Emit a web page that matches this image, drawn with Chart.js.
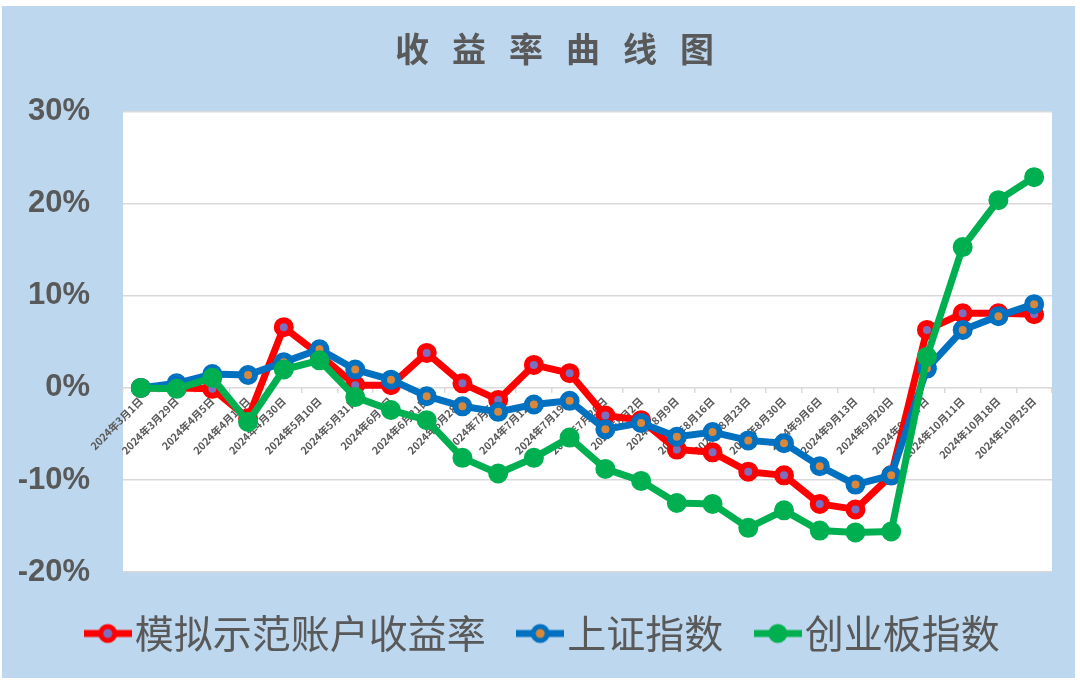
<!DOCTYPE html>
<html><head><meta charset="utf-8">
<script src="https://cdn.jsdelivr.net/npm/chart.js@4"></script>
<style>
html,body{margin:0;padding:0;background:#fff;width:1080px;height:683px;overflow:hidden;}
#wrap{position:absolute;left:2px;top:6px;width:1073px;height:672px;background:#BDD7EE;}
canvas{display:block;}
</style></head><body>
<div id="wrap"><canvas id="c" width="1073" height="672"></canvas></div>
<script>
const categories = ['2024年3月1日','2024年3月29日','2024年4月5日','2024年4月19日','2024年4月30日','2024年5月10日','2024年5月31日','2024年6月7日','2024年6月21日','2024年6月28日','2024年7月5日','2024年7月12日','2024年7月19日','2024年7月26日','2024年8月2日','2024年8月9日','2024年8月16日','2024年8月23日','2024年8月30日','2024年9月6日','2024年9月13日','2024年9月20日','2024年9月27日','2024年10月11日','2024年10月18日','2024年10月25日'];
const accountReturn = [0, 0, -0.1, -3.3, 6.6, 3.6, 0.3, 0.3, 3.8, 0.5, -1.3, 2.5, 1.6, -3.0, -3.5, -6.7, -7.0, -9.1, -9.5, -12.6, -13.2, -9.5, 6.3, 8.1, 8.1, 8.0];
const shIndex = [0, 0.5, 1.5, 1.4, 2.8, 4.2, 2.0, 0.9, -0.9, -2.0, -2.6, -1.8, -1.4, -4.5, -3.8, -5.3, -4.8, -5.7, -6.0, -8.5, -10.5, -9.5, 2.1, 6.3, 7.8, 9.1];
const cyIndex = [0, -0.1, 1.1, -3.7, 2.0, 3.0, -1.0, -2.4, -3.5, -7.6, -9.3, -7.6, -5.4, -8.8, -10.1, -12.5, -12.6, -15.2, -13.3, -15.5, -15.7, -15.6, 3.4, 15.3, 20.4, 22.9];
const seriesNames = ['模拟示范账户收益率','上证指数','创业板指数'];
const yMin = -20, yMax = 30, yStep = 10;
const titleText = '收益率曲线图';

const RED='#FF0000', BLUE='#0070C0', GREEN='#00B050';
const GREY='#595959';

function legendImg(line, fill){
  const c=document.createElement('canvas'); c.width=48; c.height=22;
  const g=c.getContext('2d');
  g.strokeStyle=line; g.lineWidth=7; g.beginPath(); g.moveTo(0,11); g.lineTo(48,11); g.stroke();
  g.beginPath(); g.arc(24,11,7,0,Math.PI*2); g.fillStyle=fill; g.fill(); g.lineWidth=5; g.stroke();
  return c;
}
const legendImgs=[legendImg(RED,'#7B6FC0'),legendImg(BLUE,'#D9873A'),legendImg(GREEN,GREEN)];

const plotBg={id:'plotBg',beforeDraw(chart){const a=chart.chartArea,ctx=chart.ctx;ctx.save();ctx.fillStyle='#FFFFFF';ctx.fillRect(a.left,a.top,a.right-a.left,a.bottom-a.top);ctx.restore();}};

// spaced title + legend nudge
const boxTweaks={id:'boxTweaks',
  afterInit(chart){
    const tb=chart.titleBlock; if(!tb) return;
    const orig=tb.draw.bind(tb);
    tb.draw=function(){const ctx=chart.ctx;ctx.save();ctx.letterSpacing='23px';orig();ctx.restore();};
  },
  afterLayout(chart){
    const tb=chart.titleBlock; if(tb){tb.left+=62;}
    const lg=chart.legend; if(lg){lg.left+=30; lg.top-=5;}
  }
};

function ds(label,data,color,fill,order){
  return {label,data,borderColor:color,backgroundColor:fill,borderWidth:7,pointRadius:7,pointBorderWidth:6,
    pointBackgroundColor:fill,pointBorderColor:color,pointHoverRadius:7,tension:0,
    borderJoinStyle:'round',borderCapStyle:'round',order};
}

new Chart(document.getElementById('c'),{
  type:'line',
  data:{labels:categories,datasets:[
    ds(seriesNames[0],accountReturn,RED,'#7B6FC0',3),
    ds(seriesNames[1],shIndex,BLUE,'#D9873A',2),
    ds(seriesNames[2],cyIndex,GREEN,GREEN,1)
  ]},
  options:{
    responsive:false,animation:false,
    layout:{padding:{left:16,right:23,top:0,bottom:10}},
    plugins:{
      title:{display:true,text:titleText,color:GREY,font:{family:'"Noto Sans CJK SC"',size:34,weight:'bold'},padding:{top:23,bottom:42}},
      legend:{position:'bottom',labels:{
        color:GREY,font:{family:'"Noto Sans CJK SC"',size:39},usePointStyle:true,pointStyleWidth:15,padding:47,
        sort:(a,b)=>a.datasetIndex-b.datasetIndex,
        generateLabels(chart){
          const items=Chart.defaults.plugins.legend.labels.generateLabels(chart);
          items.forEach(it=>{it.pointStyle=legendImgs[it.datasetIndex];});
          return items;
        }}},
      tooltip:{enabled:false}
    },
    scales:{
      y:{min:yMin,max:yMax,
        ticks:{stepSize:yStep,color:GREY,padding:33,font:{family:'"Liberation Sans"',size:31,weight:'bold'},callback:v=>v+'%'},
        grid:{color:'#D9D9D9',lineWidth:1.5,drawTicks:false},border:{display:false},
        afterFit(s){s.width=105;}
      },
      x:{axis:'x',position:{y:0},offset:true,
        ticks:{autoSkip:false,minRotation:45,maxRotation:45,color:GREY,padding:2,font:{family:'"Noto Sans CJK SC"',size:10.5,weight:'bold'}},
        grid:{offset:true,drawOnChartArea:false,drawTicks:true,tickLength:5,color:'#D9D9D9',lineWidth:1.5},
        border:{display:false}
      }
    }
  },
  plugins:[plotBg,boxTweaks]
});
</script>
</body></html>
